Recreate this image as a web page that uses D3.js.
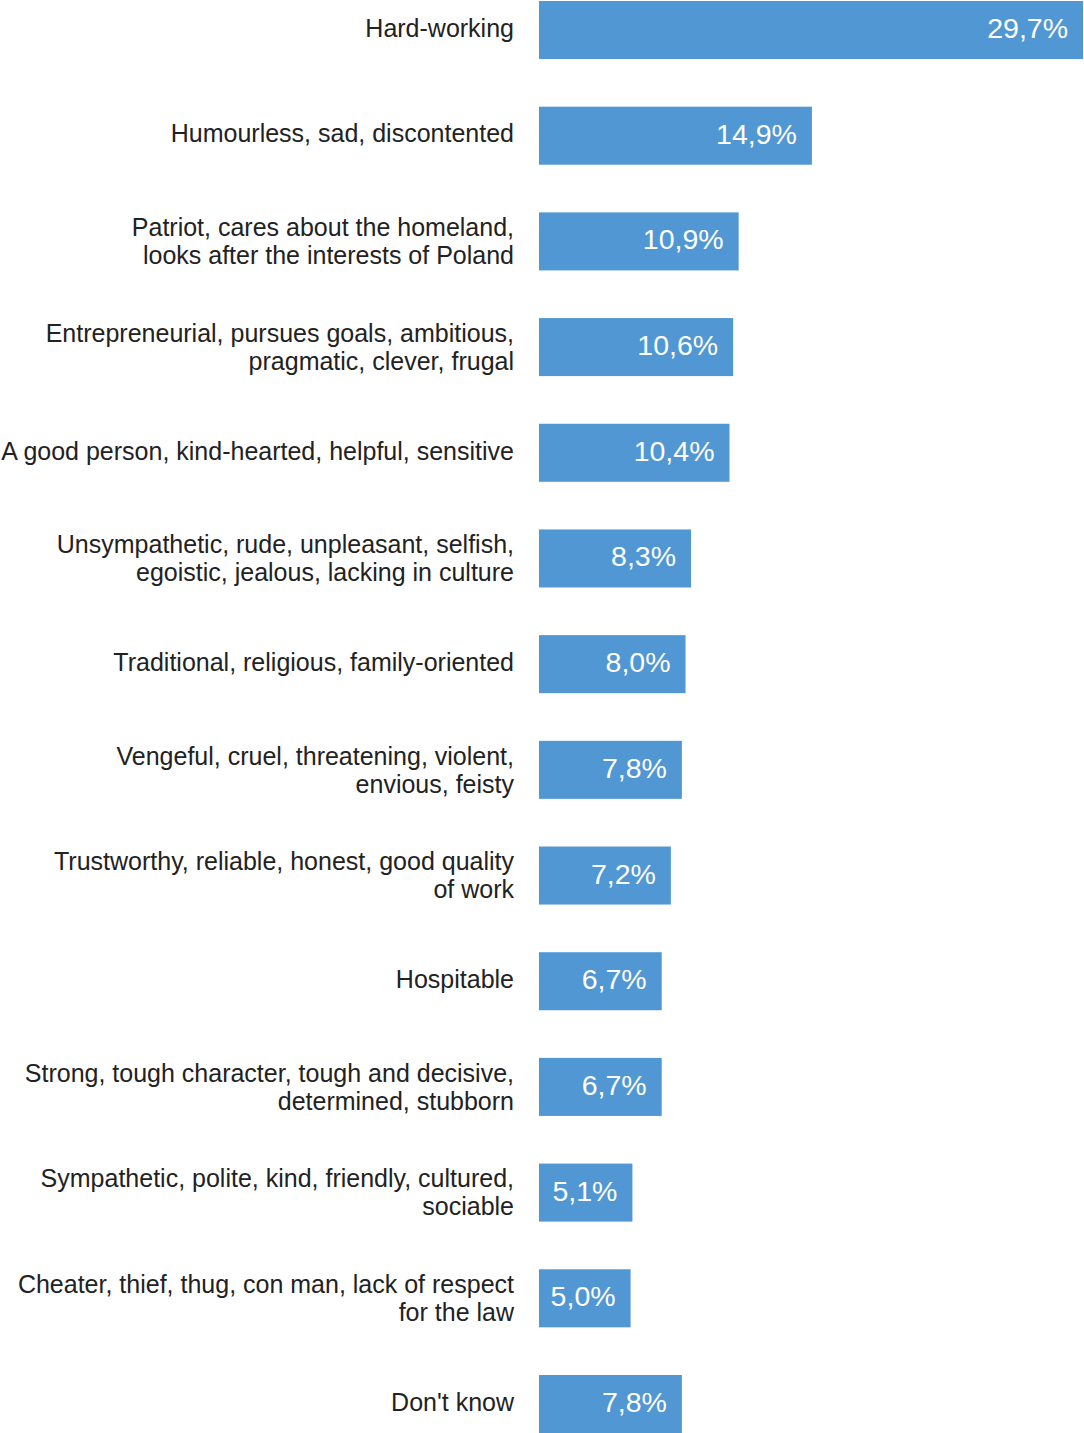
<!DOCTYPE html>
<html>
<head>
<meta charset="utf-8">
<script src="https://cdn.jsdelivr.net/npm/d3@7"></script>
<style>
  body { margin: 0; background: #fff; }
  svg { display: block; }
</style>
</head>
<body>
<svg id="chart" width="1084" height="1433"></svg>
<script>
// categories (\n marks a line break in the label)
var categories = [
    "Hard-working",
    "Humourless, sad, discontented",
    "Patriot, cares about the homeland,\nlooks after the interests of Poland",
    "Entrepreneurial, pursues goals, ambitious,\npragmatic, clever, frugal",
    "A good person, kind-hearted, helpful, sensitive",
    "Unsympathetic, rude, unpleasant, selfish,\negoistic, jealous, lacking in culture",
    "Traditional, religious, family-oriented",
    "Vengeful, cruel, threatening, violent,\nenvious, feisty",
    "Trustworthy, reliable, honest, good quality\nof work",
    "Hospitable",
    "Strong, tough character, tough and decisive,\ndetermined, stubborn",
    "Sympathetic, polite, kind, friendly, cultured,\nsociable",
    "Cheater, thief, thug, con man, lack of respect\nfor the law",
    "Don't know"
];

var values = [29.7, 14.9, 10.9, 10.6, 10.4, 8.3, 8.0, 7.8, 7.2, 6.7, 6.7, 5.1, 5.0, 7.8];

var valueLabels = ["29,7%", "14,9%", "10,9%", "10,6%", "10,4%", "8,3%", "8,0%",
    "7,8%", "7,2%", "6,7%", "6,7%", "5,1%", "5,0%", "7,8%"];

var data = categories.map(function(c, i) {
    return {cat: c, value: values[i], label: valueLabels[i]};
});

var svg = d3.select("#chart");
var width = 1084;
var height = 1433;

var barLeft = 539;  // bars start here, category labels sit left of it

var xScale = d3.scaleLinear()
    .domain([0, d3.max(values)])
    .range([barLeft, width - 1]);

var yScale = d3.scaleBand()
    .domain(categories)
    .range([1, height])
    .paddingInner(0.451)
    .paddingOuter(0)
    .align(0);

var rows = svg.selectAll("g.row")
    .data(data)
    .enter()
    .append("g")
    .attr("class", "row");

rows.append("rect")
    .attr("x", xScale(0))
    .attr("y", function(d) { return yScale(d.cat); })
    .attr("width", function(d) { return xScale(d.value) - xScale(0); })
    .attr("height", yScale.bandwidth())
    .attr("fill", "#5097d3");

// value labels inside the bars
rows.append("text")
    .attr("x", function(d) { return xScale(d.value) - 15; })
    .attr("y", function(d) { return yScale(d.cat) + yScale.bandwidth() / 2 - 2; })
    .attr("dy", "0.35em")
    .attr("text-anchor", "end")
    .attr("fill", "#fff")
    .style("font-family", "'Liberation Sans', Arial, sans-serif")
    .style("font-size", "28.5px")
    .text(function(d) { return d.label; });

// category labels, possibly two lines
var lineH = 28;
rows.append("text")
    .attr("text-anchor", "end")
    .attr("fill", "#222")
    .style("font-family", "'Liberation Sans', Arial, sans-serif")
    .style("font-size", "25px")
    .each(function(d) {
        var lines = d.cat.split("\n");
        var cy = yScale(d.cat) + yScale.bandwidth() / 2 - 2;
        if (lines.length > 1) cy += 2;  // two-line labels sit a touch lower
        var y0 = cy - (lines.length - 1) * lineH / 2;
        var t = d3.select(this);
        lines.forEach(function(l, k) {
            t.append("tspan")
                .attr("x", 514)
                .attr("y", y0 + k * lineH)
                .attr("dy", "0.35em")
                .text(l);
        });
    });
</script>
</body>
</html>
